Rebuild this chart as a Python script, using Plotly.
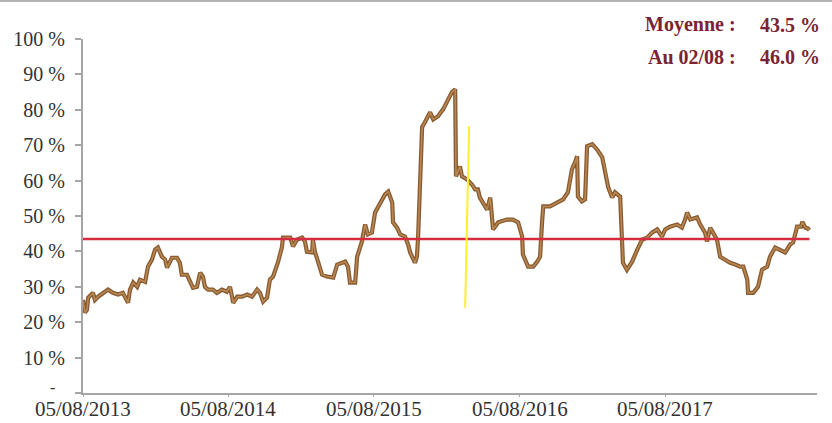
import plotly.graph_objects as go

dates = [
    "2013-08-05", "2013-08-10", "2013-08-15", "2013-08-18", "2013-08-30", "2013-09-04", "2013-09-12",
    "2013-09-29", "2013-10-07", "2013-10-19", "2013-11-01", "2013-11-13", "2013-11-26", "2013-12-01",
    "2013-12-09", "2013-12-19", "2013-12-26", "2014-01-08", "2014-01-15", "2014-01-25", "2014-02-02",
    "2014-02-09", "2014-02-19", "2014-02-27", "2014-03-04", "2014-03-16", "2014-03-29", "2014-04-05",
    "2014-04-10", "2014-04-23", "2014-05-01", "2014-05-08", "2014-05-18", "2014-05-26", "2014-06-02",
    "2014-06-07", "2014-06-15", "2014-06-27", "2014-07-07", "2014-07-20", "2014-08-01", "2014-08-09",
    "2014-08-17", "2014-08-27", "2014-09-08", "2014-09-21", "2014-10-03", "2014-10-16", "2014-10-23",
    "2014-10-31", "2014-11-10", "2014-11-17", "2014-11-25", "2014-12-07", "2014-12-17", "2014-12-20",
    "2015-01-07", "2015-01-14", "2015-01-24", "2015-02-06", "2015-02-13", "2015-02-18", "2015-03-03",
    "2015-03-05", "2015-03-10", "2015-03-18", "2015-03-28", "2015-04-09", "2015-04-25", "2015-05-05",
    "2015-05-25", "2015-06-01", "2015-06-06", "2015-06-19", "2015-06-24", "2015-07-06", "2015-07-14",
    "2015-07-21", "2015-07-31", "2015-08-08", "2015-08-20", "2015-09-02", "2015-09-10", "2015-09-20",
    "2015-09-22", "2015-10-02", "2015-10-10", "2015-10-22", "2015-10-30", "2015-11-04", "2015-11-16",
    "2015-11-21", "2015-11-24", "2015-11-29", "2015-12-04", "2015-12-11", "2015-12-24", "2016-01-01",
    "2016-01-13", "2016-01-26", "2016-02-05", "2016-02-17", "2016-02-25", "2016-02-27", "2016-03-08",
    "2016-03-13", "2016-03-26", "2016-04-07", "2016-04-15", "2016-04-22", "2016-04-27", "2016-05-05",
    "2016-05-15", "2016-05-23", "2016-05-28", "2016-05-30", "2016-06-12", "2016-07-04", "2016-07-19",
    "2016-08-01", "2016-08-11", "2016-08-13", "2016-08-26", "2016-09-08", "2016-09-18", "2016-09-25",
    "2016-09-30", "2016-10-03", "2016-10-20", "2016-11-07", "2016-11-22", "2016-12-04", "2016-12-14",
    "2016-12-22", "2016-12-27", "2016-12-29", "2017-01-08", "2017-01-16", "2017-01-21", "2017-02-03",
    "2017-02-15", "2017-02-28", "2017-03-07", "2017-03-15", "2017-03-25", "2017-04-01", "2017-04-14",
    "2017-04-19", "2017-04-21", "2017-05-01", "2017-05-14", "2017-05-27", "2017-06-08", "2017-06-21",
    "2017-07-03", "2017-07-16", "2017-07-28", "2017-08-05", "2017-08-17", "2017-09-04", "2017-09-16",
    "2017-09-24", "2017-09-29", "2017-10-07", "2017-10-24", "2017-11-01", "2017-11-13", "2017-11-18",
    "2017-11-26", "2017-12-03", "2017-12-13", "2017-12-21", "2018-01-02", "2018-01-15", "2018-01-28",
    "2018-02-09", "2018-02-17", "2018-02-27", "2018-03-01", "2018-03-14", "2018-03-26", "2018-04-05",
    "2018-04-18", "2018-04-25", "2018-05-08", "2018-05-20", "2018-06-02", "2018-06-15", "2018-06-22",
    "2018-07-02", "2018-07-12", "2018-07-15", "2018-07-23", "2018-07-29", "2018-08-02",
]

values = [
    26.3, 22.7, 23.5, 26.9, 28.3, 26.3, 27.2,
    28.6, 29.2, 28.3, 27.8, 28.3, 25.5, 29.2,
    31.2, 30.0, 32.0, 31.4, 35.7, 37.7, 40.5,
    41.1, 38.5, 37.7, 35.4, 38.2, 38.2, 36.8,
    33.4, 33.4, 31.2, 29.7, 30.0, 34.0, 32.9,
    30.0, 29.2, 29.2, 28.3, 29.2, 28.6, 30.0,
    25.5, 27.2, 27.2, 27.8, 27.2, 29.2, 28.3,
    25.8, 27.0, 32.0, 32.9, 36.8, 41.1, 43.9,
    43.9, 41.4, 43.3, 43.9, 42.8, 39.9, 39.7,
    43.3, 39.9, 37.1, 33.4, 32.9, 32.6, 36.3,
    37.1, 35.7, 31.2, 31.2, 38.5, 42.8, 47.6,
    44.8, 45.3, 51.0, 53.3, 56.1, 56.9, 53.8,
    48.2, 46.7, 44.8, 44.2, 41.9, 39.7, 36.8,
    38.5, 44.2, 60.3, 75.1, 76.5, 79.3, 77.3,
    78.2, 80.2, 82.2, 85.0, 85.8, 61.2, 64.0,
    61.2, 60.3, 58.9, 57.5, 57.5, 55.2, 53.8,
    51.8, 55.2, 49.9, 46.2, 48.2, 49.0, 49.0,
    48.2, 44.2, 39.1, 35.7, 35.7, 37.1, 38.5,
    48.2, 52.7, 52.7, 53.8, 54.7, 56.7, 63.2,
    65.2, 66.9, 55.5, 54.1, 54.7, 69.7, 70.3,
    68.8, 66.6, 63.2, 58.1, 55.2, 56.7, 55.5,
    43.3, 36.8, 34.8, 37.1, 40.5, 43.3, 43.9,
    45.3, 46.2, 44.2, 46.2, 47.0, 47.6, 46.7,
    49.0, 51.0, 49.0, 49.6, 47.6, 45.3, 42.8,
    46.7, 45.3, 43.3, 38.5, 37.7, 36.8, 36.3,
    35.7, 35.7, 32.0, 28.3, 28.3, 30.0, 34.8,
    35.7, 38.5, 41.1, 40.5, 39.7, 42.0, 42.5,
    47.0, 47.0, 48.4, 46.7, 46.5, 46.0,
]

mean_value = 43.5
last_label = "Au 02/08 :"

tick_dates = ["2013-08-05", "2014-08-05", "2015-08-05", "2016-08-05", "2017-08-05"]
tick_labels = ["05/08/2013", "05/08/2014", "05/08/2015", "05/08/2016", "05/08/2017"]
y_ticks = [0, 10, 20, 30, 40, 50, 60, 70, 80, 90, 100]
y_labels = ["", "10 %", "20 %", "30 %", "40 %", "50 %", "60 %", "70 %", "80 %", "90 %", "100 %"]
zero_label = "-"

highlight_dates = ["2016-03-31", "2016-03-21"]
highlight_values = [75.4, 24.1]

FONT = "Liberation Serif"
MAROON = "rgb(122,35,50)"
TEXT = "rgb(50,50,50)"

fig = go.Figure()
fig.add_trace(go.Scatter(x=dates, y=values, mode="lines",
                         line=dict(color="rgb(135,90,50)", width=4.2), hoverinfo="skip"))
fig.add_trace(go.Scatter(x=dates, y=values, mode="lines",
                         line=dict(color="rgb(185,135,80)", width=1.6)))
fig.add_trace(go.Scatter(x=[dates[0], dates[-1]], y=[mean_value, mean_value], mode="lines",
                         line=dict(color="rgb(212,45,65)", width=2.6)))

fig.add_shape(type="line", xref="x", yref="y",
              x0=highlight_dates[0], y0=highlight_values[0],
              x1=highlight_dates[1], y1=highlight_values[1],
              line=dict(color="rgb(255,240,40)", width=2))

fig.add_shape(type="line", xref="paper", yref="paper", x0=-0.12, x1=1.03, y0=1.107, y1=1.107,
              line=dict(color="rgb(180,180,180)", width=2))

# x tick labels as annotations (keeps them inside the page)
for d, lab in zip(tick_dates, tick_labels):
    fig.add_annotation(xref="x", yref="paper", x=d, y=0, xanchor="center", yanchor="top",
                       yshift=-3, text=lab, showarrow=False, borderpad=0,
                       font=dict(family=FONT, size=21, color=TEXT))

# zero label "-" sitting slightly above the axis, left of the other labels
fig.add_annotation(xref="paper", yref="y", x=-0.042, y=y_ticks[0], xanchor="center", yanchor="middle",
                   yshift=6, text=zero_label, showarrow=False, borderpad=0,
                   font=dict(family=FONT, size=16, color=TEXT))

ann_font = dict(family=FONT, size=20, color=MAROON)
fig.add_annotation(xref="paper", yref="paper", x=0.893, y=1.040, xanchor="right", yanchor="middle",
                   text="<b>Moyenne :</b>", showarrow=False, font=ann_font)
fig.add_annotation(xref="paper", yref="paper", x=1.007, y=1.040, xanchor="right", yanchor="middle",
                   text=f"<b>{mean_value:.1f} %</b>", showarrow=False, font=ann_font)
fig.add_annotation(xref="paper", yref="paper", x=0.893, y=0.949, xanchor="right", yanchor="middle",
                   text=f"<b>{last_label}</b>", showarrow=False, font=ann_font)
fig.add_annotation(xref="paper", yref="paper", x=1.007, y=0.949, xanchor="right", yanchor="middle",
                   text=f"<b>{values[-1]:.1f} %</b>", showarrow=False, font=ann_font)

fig.update_layout(
    width=832, height=423,
    margin=dict(l=83, r=15, t=39, b=30, autoexpand=False),
    paper_bgcolor="white", plot_bgcolor="white",
    showlegend=False,
    font=dict(family=FONT, size=20, color=TEXT),
)
fig.update_xaxes(
    type="date", range=["2013-08-05", "2018-08-21"],
    tickvals=tick_dates, showticklabels=False, automargin=False,
    showgrid=False, zeroline=False,
    showline=True, linecolor="rgb(165,165,165)", linewidth=2,
    ticks="outside", ticklen=2, tickcolor="rgb(165,165,165)", tickwidth=1,
)
fig.update_yaxes(
    range=[0, 100], tickvals=y_ticks, ticktext=y_labels, automargin=False,
    showgrid=False, zeroline=False,
    showline=True, linecolor="rgb(165,165,165)", linewidth=2,
    ticks="outside", ticklen=6, tickcolor="rgb(165,165,165)", tickwidth=2,
    ticklabelstandoff=6,
    tickfont=dict(family=FONT, size=20, color=TEXT),
)

fig.write_html("out.html", config={"displayModeBar": False},
               post_script="document.body.style.margin='0';document.body.style.overflow='hidden';")
